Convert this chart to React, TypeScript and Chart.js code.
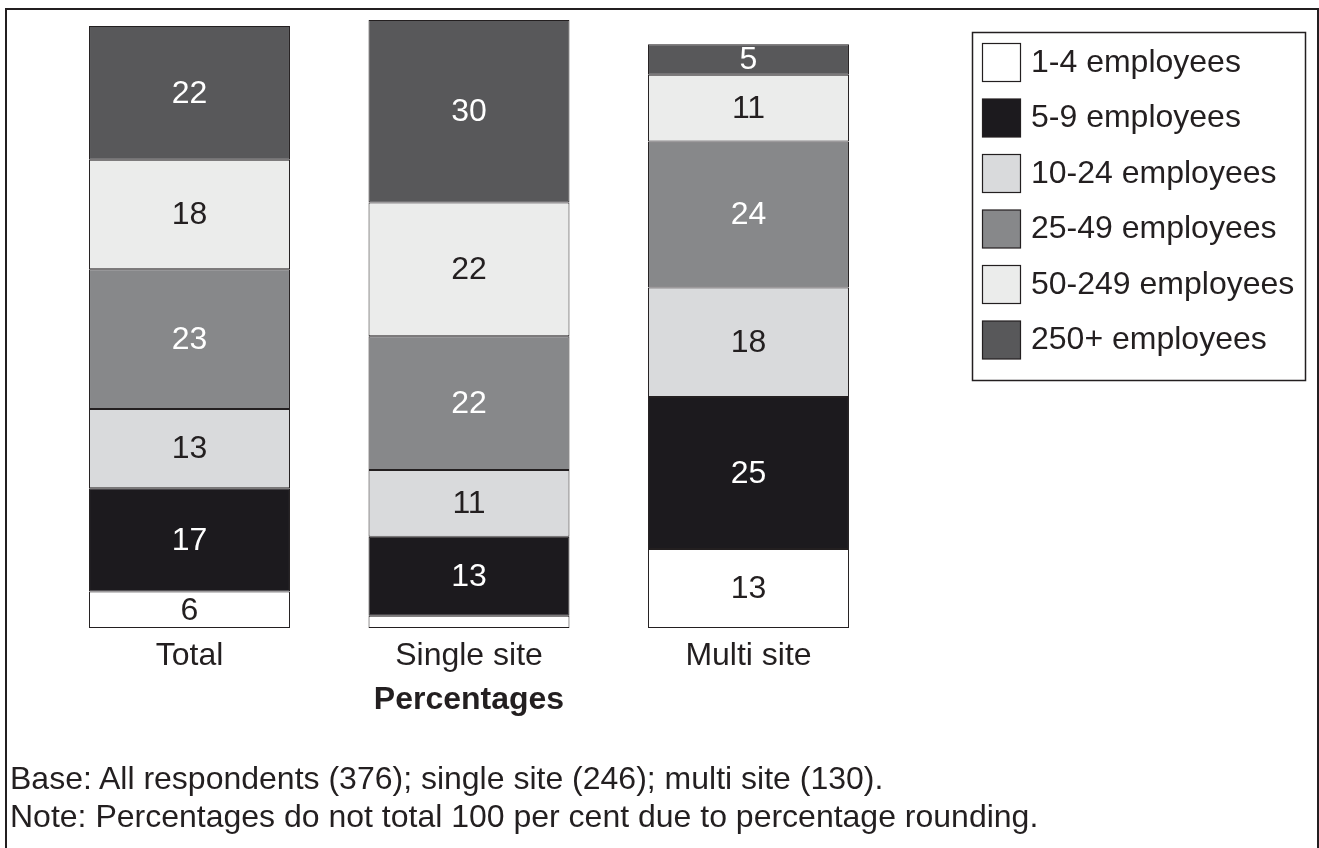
import React, { useEffect, useRef } from "react";
import { Chart, registerables } from "chart.js";

Chart.register(...registerables);

// Company sites and employee size bands (percentages)
const categories = ["Total", "Single site", "Multi site"];
const sizeBands = [
  "1-4 employees",
  "5-9 employees",
  "10-24 employees",
  "25-49 employees",
  "50-249 employees",
  "250+ employees",
];
const band1to4 = [6, 2, 13];
const band5to9 = [17, 13, 25];
const band10to24 = [13, 11, 18];
const band25to49 = [23, 22, 24];
const band50to249 = [18, 22, 11];
const band250plus = [22, 30, 5];
const bandValues = [band1to4, band5to9, band10to24, band25to49, band50to249, band250plus];

const fills = ["#ffffff", "#1c1a1e", "#d9dadc", "#87888a", "#ebeceb", "#58585a"];
const labelInk = ["#231f20", "#ffffff", "#231f20", "#ffffff", "#231f20", "#ffffff"];
const INK = "#231f20";
const FONT = '"Liberation Sans", Arial, Helvetica, sans-serif';

const axisTitle = "Percentages";
const footnotes = [
  "Base: All respondents (376); single site (246); multi site (130).",
  "Note: Percentages do not total 100 per cent due to percentage rounding.",
];

const W = 1319;
const H = 848;

// Value labels centred in each stacked segment
const segmentLabels = {
  id: "segmentLabels",
  afterDatasetsDraw(chart: any) {
    const ctx = chart.ctx;
    ctx.save();
    ctx.font = `32px ${FONT}`;
    ctx.textAlign = "center";
    ctx.textBaseline = "middle";
    chart.data.datasets.forEach((ds: any, di: number) => {
      const meta = chart.getDatasetMeta(di);
      meta.data.forEach((bar: any, i: number) => {
        const v = ds.data[i];
        if (v < 3) return;
        const { x, y, base } = bar.getProps(["x", "y", "base"], true);
        ctx.fillStyle = labelInk[di];
        ctx.fillText(String(v), x, (y + base) / 2 + 1);
      });
    });
    ctx.restore();
  },
};

// Category names under the bars, axis title and the boxed legend
const annotations = {
  id: "annotations",
  afterDraw(chart: any) {
    const ctx = chart.ctx;
    const xs = chart.scales.x;
    ctx.save();
    ctx.fillStyle = INK;
    ctx.textAlign = "center";
    ctx.textBaseline = "alphabetic";
    ctx.font = `32px ${FONT}`;
    categories.forEach((c, i) => {
      ctx.fillText(c, xs.getPixelForValue(i), 665);
    });
    ctx.font = `bold 32px ${FONT}`;
    ctx.fillText(axisTitle, xs.getPixelForValue(1), 709);

    // legend box
    const bx = 972;
    const by = 32;
    const bw = 333;
    const bh = 348;
    ctx.lineWidth = 1.5;
    ctx.strokeStyle = INK;
    ctx.strokeRect(bx + 0.5, by + 0.5, bw, bh);
    ctx.font = `32px ${FONT}`;
    ctx.textAlign = "left";
    chart.data.datasets.forEach((ds: any, di: number) => {
      const sy = 43.5 + di * 55.5;
      ctx.fillStyle = ds.backgroundColor;
      ctx.fillRect(982.5, sy, 38, 38);
      ctx.lineWidth = 1.2;
      ctx.strokeStyle = INK;
      ctx.strokeRect(982.5, sy, 38, 38);
      ctx.fillStyle = INK;
      ctx.fillText(ds.label, 1031, sy + 28);
    });
    ctx.restore();
  },
};

export default function App() {
  const canvasRef = useRef<HTMLCanvasElement | null>(null);

  useEffect(() => {
    document.body.style.margin = "0";
    document.body.style.overflow = "hidden";
    const canvas = canvasRef.current;
    if (!canvas) return;
    const chart = new Chart(canvas, {
      type: "bar",
      data: {
        labels: categories,
        datasets: sizeBands.map((label, i) => ({
          label,
          data: bandValues[i],
          backgroundColor: fills[i],
          borderColor: INK,
          borderWidth: 1,
          borderSkipped: false,
          barPercentage: 0.719,
          categoryPercentage: 1,
        })),
      },
      options: {
        responsive: false,
        animation: false,
        events: [],
        layout: {
          padding: { left: 49.75, right: 430.75, top: 20, bottom: H - 628 },
        },
        plugins: {
          legend: { display: false },
          tooltip: { enabled: false },
          title: { display: false },
        },
        scales: {
          x: { display: false, stacked: true, offset: true },
          y: { display: false, stacked: true, min: 0, max: 100 },
        },
      },
      plugins: [segmentLabels, annotations],
    });
    return () => chart.destroy();
  }, []);

  return (
    <div style={{ position: "relative", width: W, height: H, overflow: "hidden", background: "#fff" }}>
      <canvas ref={canvasRef} width={W} height={H} style={{ position: "absolute", left: 0, top: 0 }} />
      <div
        style={{
          position: "absolute",
          left: 5,
          top: 8,
          width: 1310,
          height: 900,
          borderLeft: `2px solid ${INK}`,
          borderTop: `2px solid ${INK}`,
          borderRight: `2px solid ${INK}`,
          pointerEvents: "none",
        }}
      />
      {footnotes.map((t, i) => (
        <div
          key={i}
          style={{
            position: "absolute",
            left: 10,
            top: 760 + i * 38,
            font: `32px ${FONT}`,
            lineHeight: "36px",
            color: INK,
            whiteSpace: "nowrap",
          }}
        >
          {t}
        </div>
      ))}
    </div>
  );
}
